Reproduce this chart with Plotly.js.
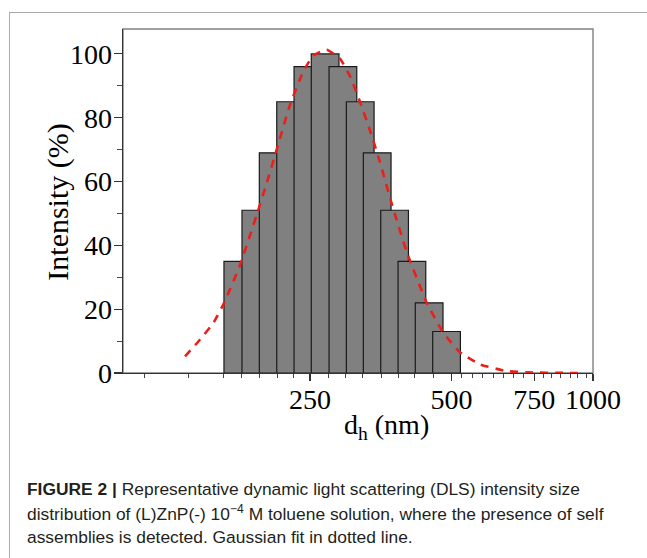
<!DOCTYPE html>
<html>
<head>
<meta charset="utf-8">
<script src="https://cdn.plot.ly/plotly-3.0.1.min.js"></script>
<style>
  html, body { margin: 0; padding: 0; background: #fff; overflow: hidden; }
  #wrap { position: relative; width: 647px; height: 558px; }
  #chart { position: absolute; left: 0; top: 0; width: 647px; height: 558px; }
  #frame { position: absolute; left: 9px; top: 12px; width: 700px; height: 600px;
           border-left: 1.5px solid #aaaaaa; border-top: 1.5px solid #aaaaaa;
           pointer-events: none; }
</style>
</head>
<body>
<div id="wrap">
  <div id="chart"></div>
  <div id="frame"></div>
</div>
<script>
// ---- data ----
const binCenters = [175.5, 191.7, 208.7, 227.3, 247.4, 269.2, 293.7, 319.7, 347.4, 378.3, 411.8, 448.1, 488.0];
const intensity  = [35, 51, 69, 85, 96, 100, 96, 85, 69, 51, 35, 22, 13];

const fitD = [135.5, 145.9, 155.7, 164, 177.4, 192.5, 202.2, 212.3, 226.6, 241.9, 254.1, 271.3, 289.5, 304.1,
              319.3, 335.4, 352.3, 373.1, 401.4, 442.8, 480.3, 521.2, 574.8, 655.2, 745.4, 850.9, 961.6];
const fitI = [5.2, 10.5, 15.7, 21.9, 33.8, 49.5, 59.5, 70, 84, 94.5, 99.5, 101.3, 98.5, 93,
              85, 76, 66, 53, 38, 22, 12.6, 6.5, 2.7, 0.6, 0.15, 0.03, 0];

const xTickVals  = [250, 500, 750, 1000];
const xTickText  = ['250', '500', '750', '1000'];
const xMinorVals = [111, 138, 164, 179, 195, 213, 231, 273, 298, 324, 354, 385, 418, 457,
                    526, 555, 583, 613, 644, 676, 710, 783, 818, 851, 894, 929, 971];
const yTickVals  = [0, 20, 40, 60, 80, 100];

const captionLines = [
  '<b>FIGURE 2 |</b> Representative dynamic light scattering (DLS) intensity size',
  'distribution of (L)ZnP(-) 10<sup>−4</sup> M toluene solution, where the presence of self',
  'assemblies is detected. Gaussian fit in dotted line.'
];

// ---- bars drawn as log-spaced bins (each bar spans a fixed ratio on the log axis) ----
const barSpan = 1.1454;
const barX = [], barW = [];
binCenters.forEach(c => {
  const l = c / Math.sqrt(barSpan), r = c * Math.sqrt(barSpan);
  barX.push((l + r) / 2);
  barW.push(r - l);
});

const serif = 'Liberation Serif, Times New Roman, serif';
const sans = 'Liberation Sans, Arial, Helvetica, sans-serif';

const traces = [
  {
    type: 'bar', x: barX, y: intensity, width: barW,
    marker: { color: '#808080', line: { color: '#1a1a1a', width: 1.2 } },
    hoverinfo: 'skip', showlegend: false
  },
  {
    type: 'scatter', mode: 'lines', x: fitD, y: fitI,
    line: { color: '#e8201c', width: 2.6, dash: '8px,7px', shape: 'spline', smoothing: 0.4 },
    hoverinfo: 'skip', showlegend: false
  }
];

const P = (px) => (px - 123) / 470;           // pixel -> paper x helper for text placement
const Q = (py) => (373.3 - py) / 344;         // pixel -> paper y helper for text placement

const annotations = [
  { xref: 'paper', yref: 'paper', x: P(386), y: Q(427), xanchor: 'center', yanchor: 'middle',
    text: 'd<sub>h</sub> (nm)', showarrow: false, font: { family: serif, size: 28, color: '#000' } },
  { xref: 'paper', yref: 'paper', x: P(58), y: Q(203), xanchor: 'center', yanchor: 'middle',
    text: 'Intensity (%)', textangle: -90, showarrow: false, font: { family: serif, size: 30, color: '#000' } }
];
const capY = [489, 513, 537];
captionLines.forEach((t, i) => {
  annotations.push({ xref: 'paper', yref: 'paper', x: P(25), y: Q(capY[i]), xanchor: 'left', yanchor: 'middle',
    text: t, showarrow: false, font: { family: sans, size: 17.4, color: '#231f20' } });
});

const layout = {
  width: 647, height: 558,
  margin: { l: 123, r: 54, t: 29, b: 185, pad: 0 },
  paper_bgcolor: '#fff', plot_bgcolor: '#fff',
  bargap: 0,
  xaxis: {
    type: 'log', range: [2, 3], showgrid: false, zeroline: false,
    showline: true, linecolor: '#333', linewidth: 1.3,
    ticks: 'outside', ticklen: 7, tickwidth: 1.2, tickcolor: '#333',
    tickmode: 'array', tickvals: xTickVals, ticktext: xTickText,
    ticklabelstandoff: -6,
    tickfont: { family: serif, size: 28, color: '#000' },
    minor: { tickmode: 'array', tickvals: xMinorVals, ticks: 'outside', ticklen: 4, tickwidth: 1, tickcolor: '#444', showgrid: false }
  },
  yaxis: {
    range: [0, 107.8], showgrid: false, zeroline: false,
    showline: true, linecolor: '#333', linewidth: 1.3,
    ticks: 'outside', ticklen: 8, tickwidth: 1.2, tickcolor: '#333',
    tickmode: 'array', tickvals: yTickVals,
    ticklabelstandoff: -4,
    tickfont: { family: serif, size: 28, color: '#000' },
    minor: { dtick: 10, ticks: 'outside', ticklen: 5, tickwidth: 1, tickcolor: '#444', showgrid: false }
  },
  shapes: [
    { type: 'rect', xref: 'paper', yref: 'paper', x0: 0, x1: 1, y0: 0, y1: 1,
      line: { color: '#808080', width: 1.4 }, layer: 'below' }
  ],
  annotations: annotations
};

Plotly.newPlot('chart', traces, layout, { staticPlot: true, displayModeBar: false });
</script>
</body>
</html>
